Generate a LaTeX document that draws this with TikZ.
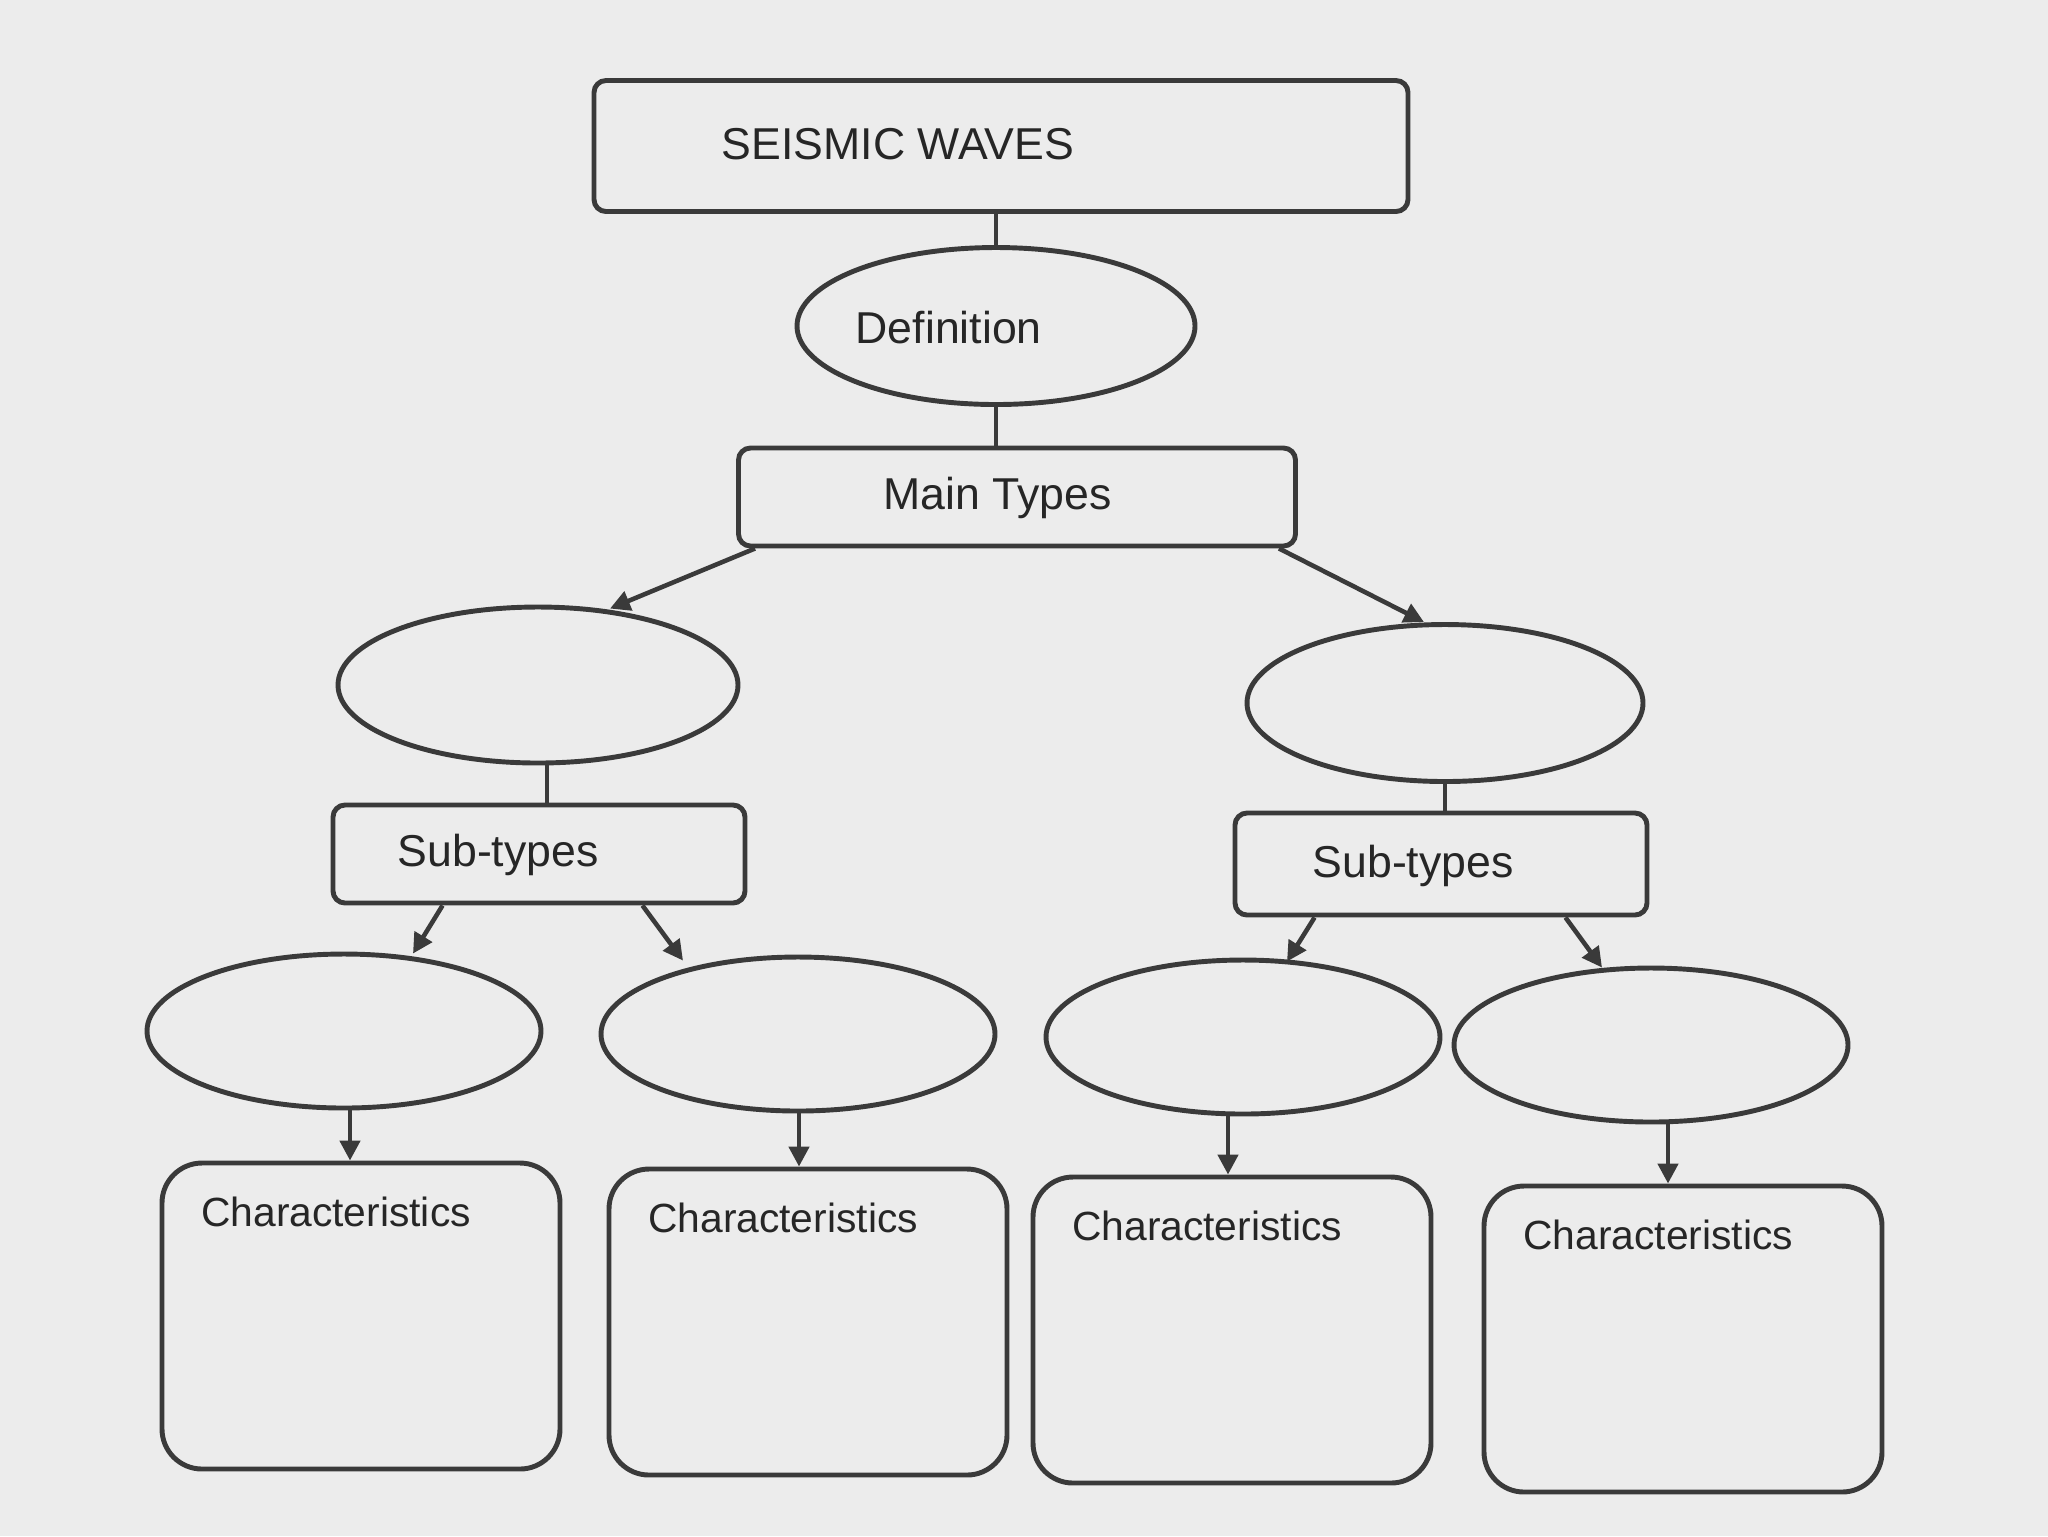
\documentclass[tikz,border=0pt]{standalone}
\usepackage{fontspec}
\setmainfont{Liberation Sans}
\usetikzlibrary{arrows.meta,shapes.geometric}
\definecolor{swink}{HTML}{3A3A3A}
\definecolor{swtext}{HTML}{262626}
\definecolor{swpaper}{HTML}{ECECEC}
\tikzset{
  sw box/.style={draw=swink, line width=1.4pt, rounded corners=1.2mm, inner sep=0pt,
    minimum height=9.8mm},
  sw oval/.style={draw=swink, line width=1.4pt, ellipse, inner sep=0pt,
    minimum width=39.4mm, minimum height=15.4mm},
  sw card/.style={draw=swink, line width=1.4pt, rounded corners=4mm, inner sep=0pt,
    minimum width=39.8mm, minimum height=30.6mm},
  sw link/.style={draw=swink, line width=1.3pt},
  sw arrow/.style={sw link, -{Triangle[length=2mm,width=2mm]}},
  sw label/.style={font=\fontsize{12.7}{15}\selectfont, text=swtext, anchor=west, inner sep=0pt},
  sw note/.style={font=\fontsize{11.6}{14}\selectfont, text=swtext, anchor=west, inner sep=0pt}
}
\begin{document}
\begin{tikzpicture}[x=0.1mm, y=-0.1mm]
  \fill[swpaper] (0,0) rectangle (2048,1536);
  \useasboundingbox (0,0) rectangle (2048,1536);
  % top of the chart
  \node[sw box, minimum width=81.4mm, minimum height=13.1mm] (waves) at (1001,146) {};
  \node[sw label] (wavesT) at (721,144) {SEISMIC WAVES};
  \node[sw oval, minimum width=39.8mm, minimum height=15.7mm] (defn) at (996,326) {};
  \node[sw label] (defnT) at (855,328) {Definition};
  \node[sw box, minimum width=55.7mm] (types) at (1017,497) {};
  \node[sw label] (typesT) at (883,498) {Main Types};
  % the two main types
  \node[sw oval, minimum width=40mm, minimum height=15.6mm] (mainL) at (538,685) {};
  \node[sw oval, minimum width=39.6mm, minimum height=15.7mm] (mainR) at (1445,703) {};
  \node[sw box, minimum width=41.2mm] (subL) at (539,854) {};
  \node[sw label] (subLT) at (397,855) {Sub-types};
  \node[sw box, minimum width=41.2mm, minimum height=10.2mm] (subR) at (1441,864) {};
  \node[sw label] (subRT) at (1312,866) {Sub-types};
  % sub-types and their boxes
  \foreach \n/\x/\y in {1/344/1031,2/798/1034,3/1243/1037,4/1651/1045} {
    \node[sw oval] (sub\n) at (\x,\y) {};
  }
  \foreach \n/\x/\y in {1/361/1316,2/808/1322,3/1232/1330,4/1683/1339} {
    \node[sw card] (card\n) at (\x,\y) {};
    \node[sw note] (cardtxt\n) at ([xshift=4.1mm,yshift=-5.1mm]card\n.north west) {Characteristics};
  }
  % connectors
  \draw[sw link] (defn.north |- waves.south) -- (defn.north);
  \draw[sw link] (defn.south) -- (defn.south |- types.north);
  \draw[sw arrow] ([xshift=1.9mm]types.south west) -- ([xshift=7.2mm,yshift=-0.4mm]mainL.north);
  \draw[sw arrow] ([xshift=-1.9mm]types.south east) -- ([xshift=-2.1mm]mainR.north);
  \draw[sw link] ([xshift=0.9mm]mainL.south) -- ([xshift=0.9mm]mainL.south |- subL.north);
  \draw[sw link] (mainR.south) -- (mainR.south |- subR.north);
  \draw[sw arrow] ([xshift=11.2mm]subL.south west) -- ([xshift=6.9mm,yshift=-0.2mm]sub1.north);
  \draw[sw arrow] ([xshift=-10.5mm]subL.south east) -- ([xshift=-11.5mm,yshift=-0.6mm]sub2.north);
  \draw[sw arrow] ([xshift=8.2mm]subR.south west) -- ([xshift=4.4mm,yshift=-0.4mm]sub3.north);
  \draw[sw arrow] ([xshift=-8.4mm]subR.south east) -- ([xshift=-4.9mm,yshift=-0.2mm]sub4.north);
  \foreach \n/\dx in {1/0.6,2/0.1,3/-1.5,4/1.7} {
    \draw[sw arrow] ([xshift=\dx mm]sub\n.south) -- ([xshift=\dx mm]sub\n.south |- card\n.north);
  }
\end{tikzpicture}
\end{document}
